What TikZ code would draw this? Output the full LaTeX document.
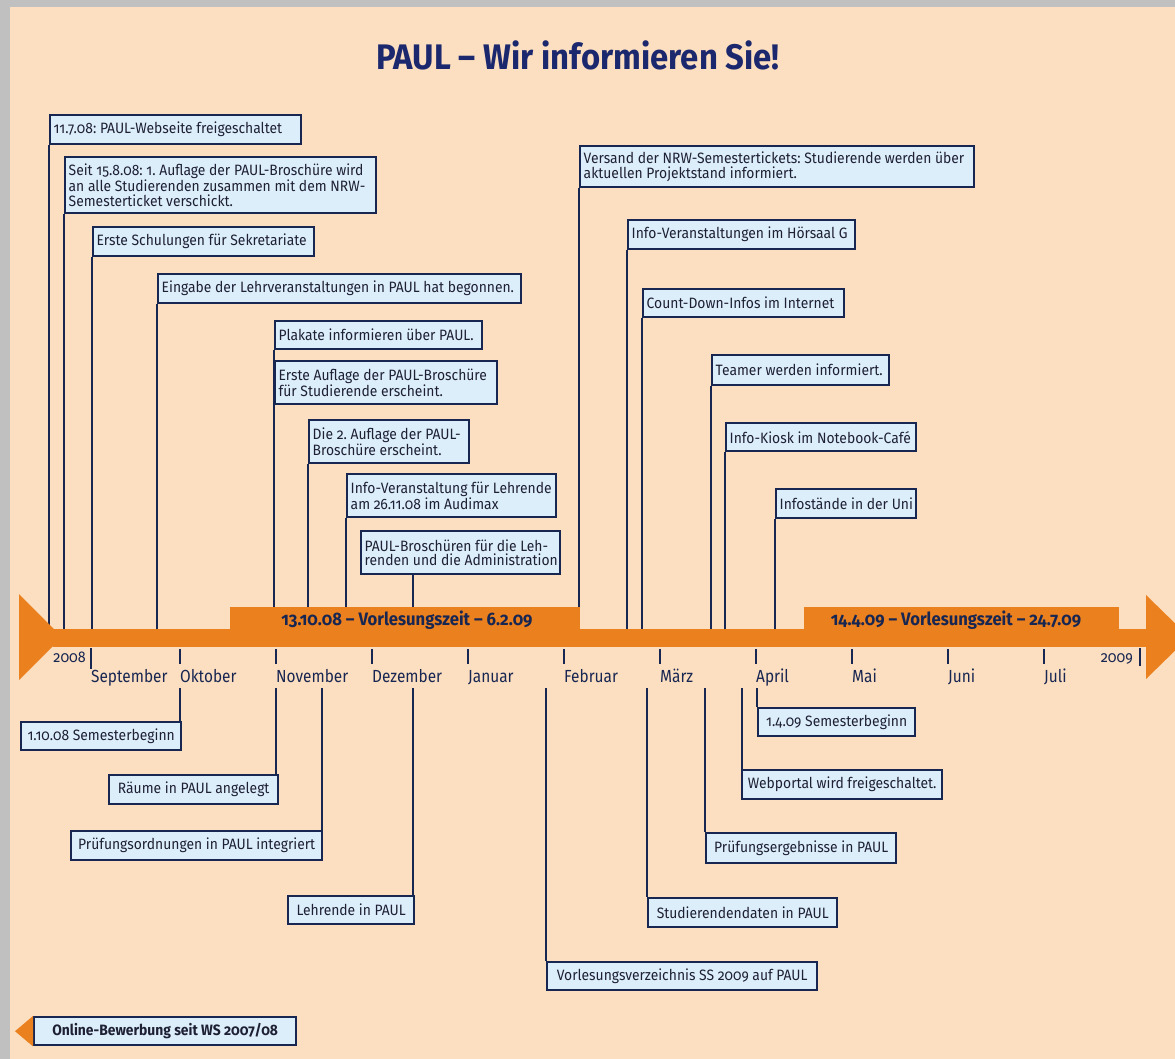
\documentclass[tikz,border=0pt]{standalone}
\usepackage{fontspec}
\setmainfont{Fira Sans}[Numbers=OldStyle,FakeStretch=0.925]
\newfontfamily\condfont{Fira Sans}[Numbers=OldStyle,FakeStretch=0.88]
\usetikzlibrary{calc}
\definecolor{bgpeach}{RGB}{252,223,192}
\definecolor{bggray}{RGB}{192,192,192}
\definecolor{orng}{RGB}{235,128,30}
\definecolor{boxfill}{RGB}{221,238,251}
\definecolor{navy}{RGB}{24,38,82}
\definecolor{boxtext}{RGB}{30,32,52}
\definecolor{titleblue}{RGB}{28,40,110}
\newcommand\boxfont{\fontsize{15pt}{14.5pt}\selectfont}
\newcommand\monthfont{\condfont\fontsize{17.5pt}{19pt}\selectfont}
\newcommand\yearfont{\fontsize{15.5pt}{17pt}\selectfont}
\newcommand\bandfont{\fontsize{18pt}{20pt}\selectfont\bfseries}
\newcommand\titlefnt{\fontsize{35.5pt}{38pt}\selectfont\bfseries}
% box: name, x1, y1, x2, y2, alignment (l = left, c = centred), text
\newcommand\ebox[7]{%
  \pgfmathsetmacro\ebw{#4-#2}%
  \pgfmathsetmacro\ebh{#5-#3}%
  \node[evbox,anchor=north west,minimum width=\ebw pt,minimum height=\ebh pt] (#1) at (#2,#3) {};
  \ifx l#6%
    \node[boxtxt,anchor=west,align=left] (#1t) at ($(#1.west)+(4.5,0)$) {#7};
  \else
    \node[boxtxt,anchor=center,align=center] (#1t) at (#1.center) {#7};
  \fi}
\pgfdeclarelayer{back}
\pgfdeclarelayer{mid}
\pgfsetlayers{back,mid,main}
\frenchspacing
\begin{document}
\begin{tikzpicture}[x=1pt,y=-1pt,
  evbox/.style={draw=navy,line width=2.4pt,fill=boxfill,inner sep=0pt},
  boxtxt/.style={inner sep=0pt,text=boxtext,font=\boxfont},
  stem/.style={draw=navy,line width=2pt},
  tickmark/.style={draw=navy,line width=2.4pt},
  month/.style={anchor=base west,inner sep=0pt,text=navy,font=\monthfont},
  yearlbl/.style={anchor=base east,inner sep=0pt,text=navy,font=\yearfont},
  bandlabel/.style={text=navy,font=\bandfont,inner sep=0pt,anchor=base}]
\useasboundingbox (0,0) rectangle (1175,1059);
\clip (0,0) rectangle (1175,1059);
\begin{pgfonlayer}{back}
\fill[bggray] (0,0) rectangle (1175,1059);
\fill[bgpeach] (10,7) rectangle (1175,1059);
\end{pgfonlayer}

% title
\node[font=\titlefnt,text=titleblue,anchor=base,inner sep=0pt] (title) at (578,70) {PAUL – Wir informieren Sie!};

% upper boxes
\ebox{b1}{49}{114}{300}{143}{l}{11.7.08: PAUL-Webseite freigeschaltet}
\ebox{b2}{64}{156}{375}{212}{l}{Seit 15.8.08: 1. Auflage der PAUL-Broschüre wird\\an alle Studierenden zusammen mit dem NRW-\\Semesterticket verschickt.}
\ebox{b3}{92}{226}{313}{255}{l}{Erste Schulungen für Sekretariate}
\ebox{b4}{157}{273}{520}{302}{l}{Eingabe der Lehrveranstaltungen in PAUL hat begonnen.}
\ebox{b5}{274}{320}{481}{348}{l}{Plakate informieren über PAUL.}
\ebox{b6}{274}{360}{496}{403}{l}{Erste Auflage der PAUL-Broschüre\\für Studierende erscheint.}
\ebox{b7}{308}{419}{468}{462}{l}{Die 2. Auflage der PAUL-\\Broschüre erscheint.}
\ebox{b8}{346}{473}{555}{516}{l}{Info-Veranstaltung für Lehrende\\am 26.11.08 im Audimax}
\ebox{b9}{360}{530}{559}{573}{l}{PAUL-Broschüren für die Leh-\\renden und die Administration}
\ebox{b10}{579}{145}{973}{186}{l}{Versand der NRW-Semestertickets: Studierende werden über\\aktuellen Projektstand informiert.}
\ebox{b11}{627}{219}{854}{248}{l}{Info-Veranstaltungen im Hörsaal G}
\ebox{b12}{642}{288}{843}{316}{l}{Count-Down-Infos im Internet}
\ebox{b13}{711}{354}{888}{384}{l}{Teamer werden informiert.}
\ebox{b14}{725}{422}{915}{450}{l}{Info-Kiosk im Notebook-Café}
\ebox{b15}{775}{488}{915}{517}{l}{Infostände in der Uni}

% lower boxes
\ebox{c1}{20}{721}{180}{749}{c}{1.10.08 Semesterbeginn}
\ebox{c2}{108}{774}{277}{803}{c}{Räume in PAUL angelegt}
\ebox{c3}{70}{830}{321}{859}{c}{Prüfungsordnungen in PAUL integriert}
\ebox{c4}{287}{895}{413}{923}{c}{Lehrende in PAUL}
\ebox{c5}{546}{961}{816}{989}{c}{Vorlesungsverzeichnis SS 2009 auf PAUL}
\ebox{c6}{647}{897}{836}{926}{c}{Studierendendaten in PAUL}
\ebox{c7}{705}{832}{895}{862}{c}{Prüfungsergebnisse in PAUL}
\ebox{c8}{741}{769}{941}{798}{c}{Webportal wird freigeschaltet.}
\ebox{c9}{757}{707}{914}{735}{c}{1.4.09 Semesterbeginn}

% online box
\ebox{ob}{33}{1016}{295}{1044}{c}{\bfseries Online-Bewerbung seit WS 2007/08}
\fill[orng] (ob.west) ++(-1,0) ++(-17,0) -- (ob.north west) -- (ob.south west) -- cycle;

% band end coordinates for upper stems
\foreach \n/\x in {1/49,2/64,3/92,4/157,5/274,7/308,8/346,9/413,10/579,11/627,12/642,13/711,14/725,15/775}
  \coordinate (u\n) at (\x,638);
% start coordinates for lower stems
\foreach \n/\x in {1/180,2/276,3/322,4/413,5/546,6/647,7/705,8/742,9/757}
  \coordinate (l\n) at (\x,688);

\begin{pgfonlayer}{mid}
\foreach \n in {1,2,3,4,5,7,8,10,11,12,13,14,15}
  \draw[stem] (u\n |- b\n.south) -- (u\n);
\draw[stem] (u9 |- b9.south) -- (u9);
\foreach \n in {1,...,9}
  \draw[stem] (l\n) -- (l\n |- c\n.north);
\end{pgfonlayer}

% band
\fill[orng] (19,594) -- (62,637) -- (19,680) -- cycle;
\fill[orng] (53,629) rectangle (1147,647);
\fill[orng] (230,607) rectangle (580,647);
\fill[orng] (804,607) rectangle (1119,647);
\fill[orng] (1146,595) -- (1189,637) -- (1146,679) -- cycle;
\node[bandlabel] (vz1) at (407,625) {13.10.08 – Vorlesungszeit – 6.2.09};
\node[bandlabel] (vz2) at (956,625) {14.4.09 – Vorlesungszeit – 24.7.09};

% ticks and labels
\draw[tickmark] (91,648) -- (91,669);
\node[yearlbl] (y8) at (86,662) {2008};
\draw[tickmark] (1140,648) -- (1140,666);
\node[yearlbl] (y9) at (1133,662) {2009};
\node[month] (m9) at (91,682) {September};
\foreach \n/\x/\m in {10/180/Oktober,11/276/November,12/372/Dezember,1/468/Januar,2/564/Februar,3/660/März,4/756/April,5/852/Mai,6/948/Juni,7/1044/Juli}{
  \draw[tickmark] (\x,649) -- (\x,664);
  \node[month] (m\n) at (\x,682) {\m};
}
\end{tikzpicture}
\end{document}
